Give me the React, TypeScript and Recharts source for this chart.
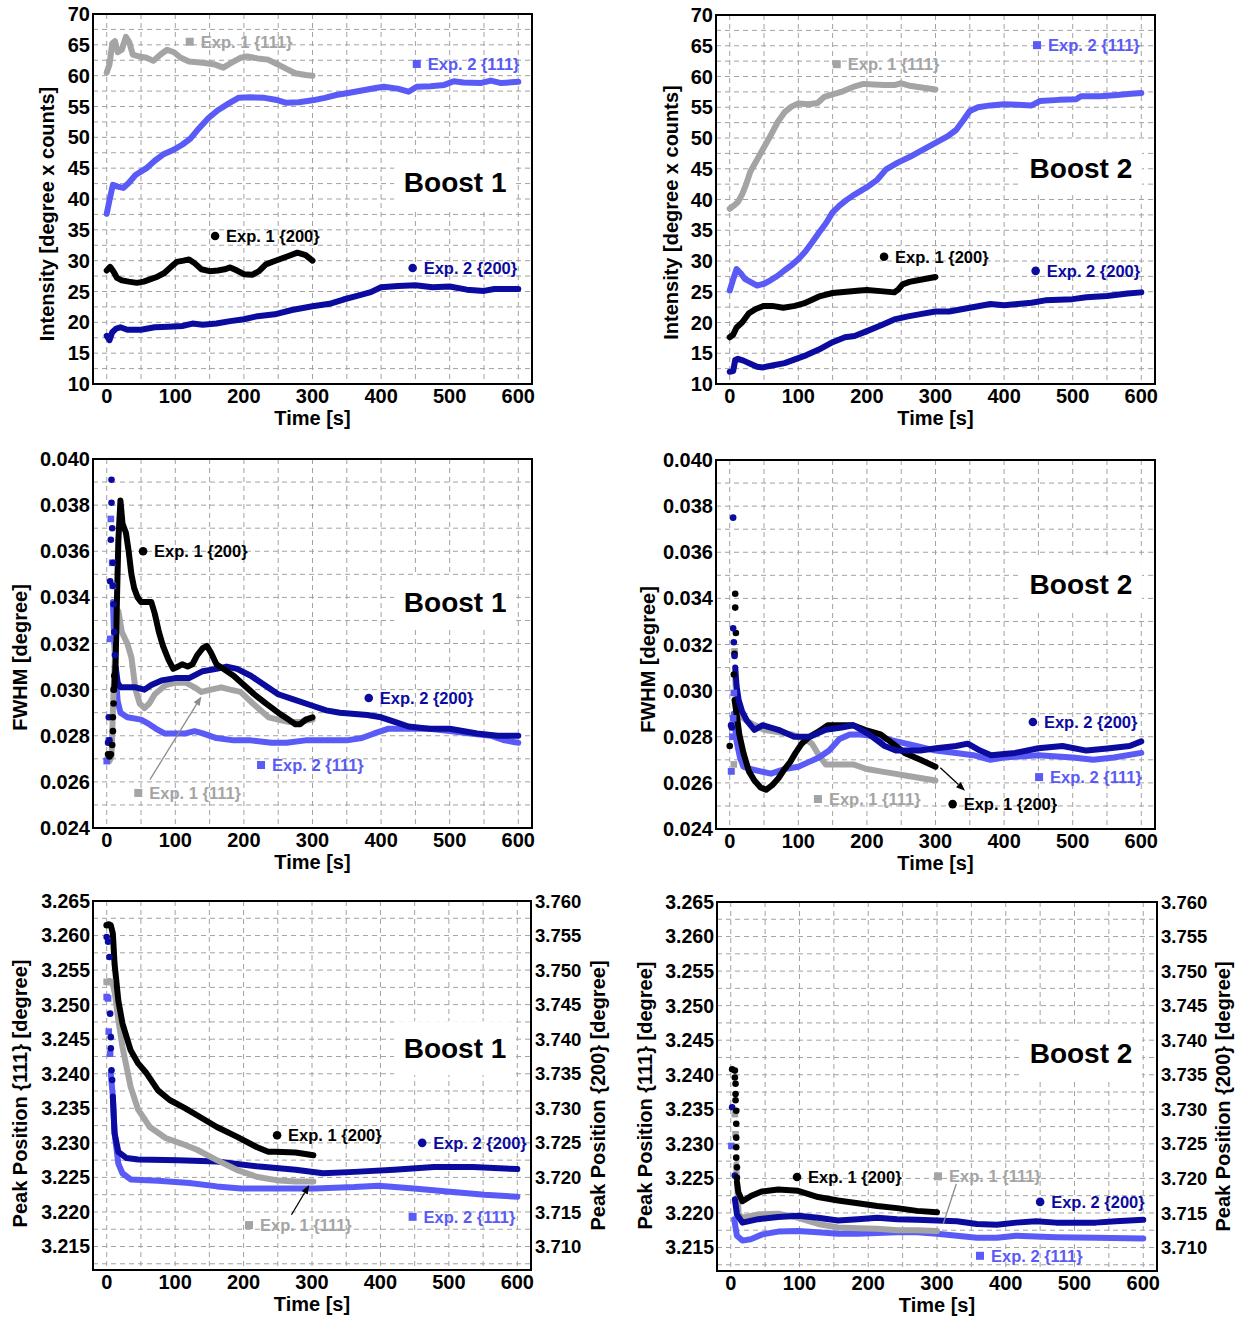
import React from 'react';
import {
  ComposedChart,
  Line,
  Scatter,
  XAxis,
  YAxis,
  CartesianGrid,
  ReferenceDot,
  ReferenceLine,
  ReferenceArea,
} from 'recharts';

type Pt = [number, number];
type Marker = 'circle' | 'square';

// ---------- colours & fonts ----------
const GRAY = '#a4a4a4';
const BLUE = '#5a5af7';
const NAVY = '#0b0b9f';
const BLACK = '#000000';
const GRID = '#a2a2a2';
const FONT = '"Liberation Sans", Arial, Helvetica, sans-serif';

// ---------- axis ticks ----------
const timeTicks = [0, 100, 200, 300, 400, 500, 600];
const intensityTicks = [10, 15, 20, 25, 30, 35, 40, 45, 50, 55, 60, 65, 70];
const fwhmTicks = [0.024, 0.026, 0.028, 0.03, 0.032, 0.034, 0.036, 0.038, 0.04];
const pos111Ticks = [3.215, 3.22, 3.225, 3.23, 3.235, 3.24, 3.245, 3.25, 3.255, 3.26, 3.265];
const pos200Ticks = [3.71, 3.715, 3.72, 3.725, 3.73, 3.735, 3.74, 3.745, 3.75, 3.755, 3.76];

const steps = (from: number, to: number, step: number) => {
  const out: number[] = [];
  for (let v = from; v <= to + step / 1000; v += step) out.push(+v.toFixed(6));
  return out;
};
const timeGrid = steps(0, 600, 50);

// ---------- series labels ----------
const L_E1_111 = 'Exp. 1 {111}';
const L_E2_111 = 'Exp. 2 {111}';
const L_E1_200 = 'Exp. 1 {200}';
const L_E2_200 = 'Exp. 2 {200}';

// ================= Intensity, Boost 1 =================
const int1E1_111: Pt[] = [[0,60.5],[4,61.8],[8,65.2],[12,65.6],[16,63.8],[22,64.2],[28,66.3],[33,65.4],[38,63.4],[48,63.1],[58,62.9],[68,62.4],[78,63.4],[88,64.2],[98,63.8],[108,62.9],[120,62.3],[140,62.1],[158,61.8],[170,61.3],[182,62.1],[195,62.9],[205,63.1],[220,62.8],[235,62.6],[248,61.9],[262,61.1],[275,60.4],[290,60.1],[300,60.0]];
const int1E2_111: Pt[] = [[0,37.6],[4,39.8],[9,42.3],[16,42.0],[24,41.8],[32,42.6],[42,43.9],[58,45.0],[70,46.2],[82,47.2],[96,47.9],[110,48.8],[122,49.8],[134,51.4],[148,53.1],[162,54.4],[178,55.5],[192,56.4],[210,56.5],[230,56.4],[246,56.1],[262,55.6],[280,55.7],[300,56.0],[318,56.4],[336,56.9],[352,57.2],[372,57.6],[392,58.0],[404,58.2],[424,57.9],[440,57.4],[452,58.2],[472,58.3],[492,58.5],[506,59.1],[520,58.9],[545,58.8],[560,59.2],[575,58.8],[600,59.0]];
const int1E1_200: Pt[] = [[0,28.4],[5,29.0],[10,28.2],[15,27.2],[22,26.8],[32,26.6],[44,26.4],[54,26.6],[64,27.0],[74,27.4],[84,28.0],[94,29.0],[102,29.8],[112,30.0],[120,30.2],[128,29.6],[138,28.6],[150,28.3],[162,28.4],[172,28.6],[180,28.9],[190,28.4],[200,27.8],[212,27.7],[222,28.3],[232,29.4],[244,29.9],[256,30.4],[266,30.8],[278,31.3],[290,30.9],[300,30.0]];
const int1E2_200: Pt[] = [[0,17.8],[4,17.1],[8,18.4],[14,19.0],[20,19.2],[30,18.8],[50,18.8],[70,19.2],[90,19.3],[110,19.4],[125,19.8],[140,19.6],[160,19.8],[180,20.2],[200,20.5],[220,21.0],[245,21.3],[270,22.0],[300,22.6],[325,23.0],[345,23.7],[365,24.3],[385,24.9],[400,25.7],[425,25.9],[450,26.0],[475,25.7],[500,25.8],[525,25.3],[550,25.1],[565,25.4],[600,25.4]];

// ================= Intensity, Boost 2 =================
const int2E1_111: Pt[] = [[0,38.5],[6,39.0],[12,39.6],[18,40.8],[24,42.5],[30,44.5],[40,46.5],[50,48.5],[60,50.5],[70,52.6],[80,54.2],[90,55.1],[100,55.6],[115,55.5],[128,55.7],[138,56.7],[150,57.1],[165,57.6],[180,58.3],[195,58.8],[210,58.7],[225,58.6],[240,58.6],[250,58.9],[262,58.5],[280,58.2],[300,57.9]];
const int2E2_111: Pt[] = [[0,25.2],[5,27.0],[10,28.7],[16,28.0],[22,27.1],[30,26.6],[40,26.0],[50,26.3],[60,26.9],[70,27.6],[80,28.5],[90,29.3],[100,30.3],[110,31.5],[120,33.0],[130,34.6],[140,36.1],[150,37.9],[160,39.0],[170,39.9],[182,40.8],[200,42.0],[215,43.2],[228,44.9],[245,46.0],[262,46.9],[280,48.0],[300,49.2],[318,50.3],[330,51.3],[340,52.8],[350,54.4],[362,55.0],[380,55.3],[400,55.5],[420,55.4],[440,55.3],[452,56.0],[480,56.2],[505,56.3],[512,56.8],[540,56.8],[565,57.0],[585,57.2],[600,57.3]];
const int2E1_200: Pt[] = [[0,17.6],[5,18.0],[10,19.2],[18,20.0],[28,21.5],[38,22.2],[50,22.7],[62,22.7],[78,22.4],[95,22.7],[108,23.1],[120,23.7],[132,24.3],[150,24.8],[170,25.0],[190,25.2],[200,25.3],[220,25.1],[240,24.9],[246,25.4],[252,26.2],[262,26.6],[280,27.0],[300,27.4]];
const int2E2_200: Pt[] = [[0,12.0],[5,12.1],[8,13.9],[12,14.1],[20,13.8],[30,13.3],[40,12.8],[48,12.7],[62,13.0],[80,13.4],[100,14.2],[112,14.7],[130,15.6],[150,16.8],[168,17.6],[182,17.8],[200,18.6],[220,19.5],[240,20.5],[260,21.0],[280,21.4],[300,21.8],[320,21.8],[340,22.2],[360,22.6],[380,23.0],[400,22.8],[420,23.0],[440,23.2],[460,23.6],[500,23.8],[520,24.1],[550,24.3],[580,24.7],[600,24.9]];

// ================= FWHM, Boost 1 =================
const fw1E1_111: Pt[] = [[0,0.0270],[4,0.0269],[7,0.0271],[10,0.0300],[14,0.0328],[17,0.0334],[22,0.0325],[30,0.0320],[36,0.0314],[42,0.0300],[48,0.0294],[55,0.0292],[62,0.0294],[70,0.0298],[86,0.0302],[100,0.0303],[115,0.0303],[128,0.0301],[138,0.0299],[152,0.0300],[167,0.0301],[180,0.0300],[195,0.0299],[213,0.0294],[236,0.0288],[250,0.0287],[265,0.0286],[282,0.0286],[300,0.0287]];
const fw1E2_111Head: Pt[] = [[0,0.0269],[3,0.0278],[5,0.0322],[6,0.0374],[8,0.0355],[9,0.0345]];
const fw1E2_111: Pt[] = [[9,0.0338],[11,0.0322],[13,0.0306],[16,0.0295],[20,0.0290],[30,0.0288],[50,0.0287],[62,0.0285],[72,0.0283],[84,0.0281],[100,0.0281],[115,0.0281],[128,0.0282],[140,0.0281],[160,0.0279],[185,0.0278],[210,0.0278],[240,0.0277],[262,0.0277],[290,0.0278],[320,0.0278],[350,0.0278],[372,0.0279],[390,0.0281],[410,0.0283],[440,0.0283],[470,0.0283],[500,0.0282],[530,0.0281],[560,0.0280],[580,0.0278],[600,0.0277]];
const fw1E1_200Head: Pt[] = [[2,0.0272],[4,0.0271],[6,0.0272],[8,0.0276],[9,0.0282],[9,0.0288],[10,0.0294],[10,0.0300],[11,0.0306]];
const fw1E1_200: Pt[] = [[11,0.0300],[13,0.0312],[15,0.0340],[17,0.0365],[20,0.0382],[23,0.0372],[28,0.0368],[32,0.0360],[36,0.0350],[40,0.0344],[45,0.0340],[50,0.0338],[58,0.0338],[65,0.0338],[70,0.0333],[76,0.0325],[82,0.0319],[90,0.0313],[97,0.0309],[104,0.0310],[110,0.0311],[118,0.0310],[125,0.0311],[132,0.0315],[140,0.0318],[146,0.0319],[152,0.0316],[160,0.0311],[170,0.0309],[185,0.0306],[200,0.0302],[215,0.0298],[232,0.0294],[250,0.0290],[265,0.0287],[275,0.0285],[282,0.0285],[290,0.0287],[300,0.0288]];
const fw1E2_200Head: Pt[] = [[2,0.0277],[3,0.0288],[4,0.0278],[5,0.0347],[6,0.0365],[7,0.0381],[7,0.0391],[8,0.0370],[9,0.0355],[9,0.0345],[10,0.0337],[11,0.0325],[12,0.0315]];
const fw1E2_200: Pt[] = [[13,0.0310],[16,0.0303],[20,0.0301],[30,0.0301],[42,0.0301],[55,0.0300],[65,0.0302],[80,0.0304],[100,0.0305],[120,0.0305],[140,0.0308],[160,0.0309],[175,0.0310],[190,0.0309],[210,0.0306],[230,0.0302],[250,0.0298],[270,0.0296],[300,0.0293],[320,0.0291],[340,0.0290],[380,0.0289],[400,0.0288],[420,0.0286],[440,0.0284],[470,0.0283],[500,0.0283],[540,0.0281],[570,0.0280],[600,0.0280]];

// ================= FWHM, Boost 2 =================
const fw2E1_111Head: Pt[] = [[3,0.0265],[6,0.0268],[7,0.0317]];
const fw2E1_111: Pt[] = [[8,0.0305],[10,0.0295],[15,0.0289],[30,0.0286],[50,0.0283],[70,0.0282],[90,0.0281],[110,0.0279],[120,0.0277],[130,0.0272],[140,0.0268],[160,0.0268],[180,0.0268],[190,0.0267],[200,0.0266],[220,0.0265],[240,0.0264],[260,0.0263],[280,0.0262],[300,0.0261]];
const fw2E2_111Head: Pt[] = [[2,0.0265],[4,0.0280],[5,0.0288],[6,0.0299]];
const fw2E2_111: Pt[] = [[6,0.0290],[10,0.0278],[15,0.0271],[20,0.0267],[30,0.0266],[45,0.0265],[60,0.0264],[80,0.0266],[100,0.0267],[115,0.0269],[130,0.0271],[145,0.0274],[160,0.0279],[175,0.0281],[192,0.0281],[215,0.0280],[243,0.0278],[272,0.0276],[300,0.0274],[330,0.0273],[355,0.0272],[380,0.0270],[400,0.0271],[450,0.0272],[500,0.0271],[530,0.0270],[560,0.0271],[600,0.0273]];
const fw2E1_200Head: Pt[] = [[0,0.0276],[6,0.0307],[7,0.0316],[8,0.0342],[8,0.0336],[9,0.0325]];
const fw2E1_200: Pt[] = [[7,0.0296],[10,0.0290],[14,0.0281],[20,0.0273],[28,0.0265],[36,0.0261],[45,0.0258],[53,0.0257],[62,0.0259],[71,0.0262],[80,0.0266],[88,0.0269],[96,0.0273],[105,0.0277],[116,0.0280],[128,0.0282],[143,0.0285],[163,0.0285],[180,0.0285],[197,0.0283],[220,0.0281],[238,0.0277],[255,0.0273],[278,0.0270],[300,0.0267]];
const fw2E2_200Head: Pt[] = [[2,0.0285],[3,0.0284],[5,0.0375],[5,0.0327],[6,0.0321],[7,0.0315]];
const fw2E2_200: Pt[] = [[8,0.0310],[10,0.0302],[13,0.0296],[18,0.0291],[25,0.0287],[36,0.0283],[48,0.0285],[60,0.0284],[71,0.0283],[94,0.0280],[117,0.0280],[140,0.0283],[163,0.0284],[180,0.0285],[203,0.0281],[226,0.0276],[243,0.0274],[278,0.0274],[301,0.0275],[330,0.0276],[347,0.0277],[365,0.0274],[381,0.0272],[416,0.0273],[450,0.0275],[485,0.0276],[520,0.0274],[554,0.0275],[583,0.0276],[600,0.0278]];

// ================= Peak position, Boost 1 ({200} on the right axis) =================
const pk1E1_111Head: Pt[] = [[0,3.2533],[5,3.2533]];
const pk1E1_111: Pt[] = [[9,3.2530],[12,3.2516],[17,3.2478],[23,3.2439],[35,3.2381],[46,3.2348],[63,3.2323],[86,3.2307],[109,3.2299],[132,3.2290],[161,3.2275],[190,3.2261],[219,3.2251],[247,3.2246],[276,3.2244],[302,3.2244]];
const pk1E2_111Head: Pt[] = [[0,3.2511],[2,3.2509],[3,3.2461],[5,3.2429]];
const pk1E2_111: Pt[] = [[6,3.2400],[9,3.2367],[11.5,3.2314],[17,3.2270],[23,3.2256],[35,3.2247],[75,3.2245],[121,3.2242],[161,3.2237],[196,3.2234],[247,3.2234],[305,3.2234],[362,3.2236],[397,3.2238],[449,3.2234],[506,3.2229],[552,3.2225],[600,3.2222]];
const pk1E1_200Head: Pt[] = [[0,3.7565],[3,3.7566]];
const pk1E1_200: Pt[] = [[6,3.7565],[9,3.7553],[11.5,3.7509],[17,3.7456],[23,3.7423],[35,3.7384],[46,3.7365],[58,3.7351],[75,3.7326],[92,3.7312],[115,3.7300],[132,3.7290],[161,3.7273],[190,3.7259],[219,3.7244],[236,3.7237],[247,3.7237],[276,3.7236],[302,3.7232]];
const pk1E2_200Head: Pt[] = [[0,3.7548],[2,3.7541],[4,3.7519],[4,3.7483],[5,3.7437],[6,3.7403],[6,3.7387],[7,3.7355],[8,3.7341]];
const pk1E2_200: Pt[] = [[9,3.7317],[11.5,3.7264],[17,3.7237],[29,3.7228],[46,3.7226],[104,3.7225],[161,3.7223],[219,3.7216],[276,3.7211],[316,3.7206],[362,3.7208],[420,3.7211],[478,3.7215],[535,3.7215],[600,3.7212]];

// ================= Peak position, Boost 2 ({200} on the right axis) =================
const pk2E1_111Head: Pt[] = [[6,3.2343],[7,3.2314]];
const pk2E1_111: Pt[] = [[8,3.2270],[9,3.2247],[11.5,3.2198],[17,3.2193],[40,3.2198],[69,3.2199],[98,3.2193],[127,3.2184],[156,3.2179],[185,3.2178],[213,3.2177],[242,3.2175],[271,3.2175],[300,3.2174]];
const pk2E2_111Head: Pt[] = [[1,3.2297]];
const pk2E2_111: Pt[] = [[5,3.2191],[9,3.2167],[17,3.2160],[29,3.2162],[46,3.2169],[69,3.2173],[98,3.2174],[127,3.2172],[156,3.2170],[185,3.2170],[213,3.2171],[242,3.2172],[271,3.2172],[300,3.2170],[329,3.2167],[358,3.2164],[387,3.2164],[415,3.2167],[473,3.2165],[531,3.2164],[600,3.2163]];
const pk2E1_200Head: Pt[] = [[2,3.7358],[6,3.7356],[6,3.7346],[7,3.7337],[7,3.7322],[7,3.7313],[8,3.7298],[8,3.7279],[8,3.7259],[8,3.7245],[8,3.7230],[9,3.7216],[9,3.7201]];
const pk2E1_200: Pt[] = [[9,3.7195],[11,3.7180],[17,3.7167],[30,3.7175],[45,3.7181],[69,3.7184],[98,3.7182],[127,3.7173],[156,3.7168],[185,3.7164],[213,3.7160],[242,3.7157],[271,3.7153],[300,3.7151]];
const pk2E2_200Head: Pt[] = [[2,3.7303],[6,3.7204]];
const pk2E2_200: Pt[] = [[6,3.7170],[9,3.7148],[17,3.7136],[40,3.7141],[69,3.7144],[98,3.7146],[127,3.7143],[156,3.7139],[185,3.7141],[213,3.7143],[242,3.7141],[271,3.7140],[300,3.7139],[329,3.7138],[358,3.7134],[387,3.7133],[415,3.7136],[444,3.7138],[473,3.7136],[502,3.7136],[531,3.7136],[560,3.7138],[600,3.7140]];

// ---------- panel configuration ----------
type SeriesCfg = { color: string; marker: Marker; axis: 'left' | 'right'; head?: Pt[]; line: Pt[] };
type TagCfg = { text: string; color: string; marker: Marker; at: Pt };
type AxisCfg = {
  domain: [number, number];
  ticks: number[];
  grid?: number[];
  digits: number;
  title: string;
  titleDx: number;
  titleDy: number;
  tickSize: number;
  tickGap: number;
};
type PanelCfg = {
  box: [number, number, number, number];
  leftW: number;
  rightW: number;
  left: AxisCfg;
  right?: AxisCfg;
  series: SeriesCfg[];
  tags: TagCfg[];
  boost: { text: string; at: Pt };
  arrow?: { from: Pt; to: Pt; color: string; head: boolean };
};

const intensityAxis = (dx: number, dy: number): AxisCfg => ({
  domain: [10, 70], ticks: intensityTicks, grid: steps(12.5, 67.5, 2.5), digits: 0,
  title: 'Intensity [degree x counts]', titleDx: dx, titleDy: dy, tickSize: 20, tickGap: 3,
});
const fwhmAxis = (dx: number, dy: number): AxisCfg => ({
  domain: [0.024, 0.04], ticks: fwhmTicks, grid: steps(0.025, 0.039, 0.001), digits: 3,
  title: 'FWHM [degree]', titleDx: dx, titleDy: dy, tickSize: 20, tickGap: 3,
});
const pos111Axis = (dx: number, dy: number): AxisCfg => ({
  domain: [3.2116, 3.265], ticks: pos111Ticks, grid: steps(3.2125, 3.2625, 0.0025), digits: 3,
  title: 'Peak Position {111} [degree]', titleDx: dx, titleDy: dy, tickSize: 19.5, tickGap: 3,
});
const pos200Axis = (dx: number, dy: number): AxisCfg => ({
  domain: [3.7066, 3.76], ticks: pos200Ticks, digits: 3,
  title: 'Peak Position {200} [degree]', titleDx: dx, titleDy: dy, tickSize: 18.5, tickGap: 4,
});

const panels: PanelCfg[] = [
  {
    box: [93, 14, 439, 370], leftW: 93, rightW: 0, left: intensityAxis(47, 15),
    series: [
      { color: BLUE, marker: 'square', axis: 'left', line: int1E2_111 },
      { color: NAVY, marker: 'circle', axis: 'left', line: int1E2_200 },
      { color: GRAY, marker: 'square', axis: 'left', line: int1E1_111 },
      { color: BLACK, marker: 'circle', axis: 'left', line: int1E1_200 },
    ],
    tags: [
      { text: L_E1_111, color: GRAY, marker: 'square', at: [121, 65.5] },
      { text: L_E2_111, color: BLUE, marker: 'square', at: [452, 61.9] },
      { text: L_E1_200, color: BLACK, marker: 'circle', at: [158, 34.0] },
      { text: L_E2_200, color: NAVY, marker: 'circle', at: [446, 28.8] },
    ],
    boost: { text: 'Boost 1', at: [508, 42.8] },
  },
  {
    box: [716, 15, 439, 369], leftW: 96, rightW: 0, left: intensityAxis(51, 13),
    series: [
      { color: BLUE, marker: 'square', axis: 'left', line: int2E2_111 },
      { color: NAVY, marker: 'circle', axis: 'left', line: int2E2_200 },
      { color: GRAY, marker: 'square', axis: 'left', line: int2E1_111 },
      { color: BLACK, marker: 'circle', axis: 'left', line: int2E1_200 },
    ],
    tags: [
      { text: L_E1_111, color: GRAY, marker: 'square', at: [156, 62.0] },
      { text: L_E2_111, color: BLUE, marker: 'square', at: [448, 65.1] },
      { text: L_E1_200, color: BLACK, marker: 'circle', at: [225, 30.7] },
      { text: L_E2_200, color: NAVY, marker: 'circle', at: [446, 28.4] },
    ],
    boost: { text: 'Boost 2', at: [512, 45.1] },
  },
  {
    box: [93, 459, 439, 369], leftW: 93, rightW: 0, left: fwhmAxis(20, 14),
    series: [
      { color: BLUE, marker: 'square', axis: 'left', head: fw1E2_111Head, line: fw1E2_111 },
      { color: GRAY, marker: 'square', axis: 'left', line: fw1E1_111 },
      { color: NAVY, marker: 'circle', axis: 'left', head: fw1E2_200Head, line: fw1E2_200 },
      { color: BLACK, marker: 'circle', axis: 'left', head: fw1E1_200Head, line: fw1E1_200 },
    ],
    tags: [
      { text: L_E1_200, color: BLACK, marker: 'circle', at: [53, 0.036] },
      { text: L_E2_200, color: NAVY, marker: 'circle', at: [382, 0.02964] },
      { text: L_E2_111, color: BLUE, marker: 'square', at: [225, 0.02673] },
      { text: L_E1_111, color: GRAY, marker: 'square', at: [46, 0.02552] },
    ],
    boost: { text: 'Boost 1', at: [508, 0.0338] },
    arrow: { from: [63, 0.0261], to: [138, 0.0297], color: '#8c8c8c', head: true },
  },
  {
    box: [716, 460, 439, 369], leftW: 96, rightW: 0, left: fwhmAxis(28, 15),
    series: [
      { color: GRAY, marker: 'square', axis: 'left', head: fw2E1_111Head, line: fw2E1_111 },
      { color: BLUE, marker: 'square', axis: 'left', head: fw2E2_111Head, line: fw2E2_111 },
      { color: BLACK, marker: 'circle', axis: 'left', head: fw2E1_200Head, line: fw2E1_200 },
      { color: NAVY, marker: 'circle', axis: 'left', head: fw2E2_200Head, line: fw2E2_200 },
    ],
    tags: [
      { text: L_E2_200, color: NAVY, marker: 'circle', at: [442, 0.02864] },
      { text: L_E2_111, color: BLUE, marker: 'square', at: [451, 0.02625] },
      { text: L_E1_111, color: GRAY, marker: 'square', at: [128.6, 0.0253] },
      { text: L_E1_200, color: BLACK, marker: 'circle', at: [325, 0.02508] },
    ],
    boost: { text: 'Boost 2', at: [512, 0.03462] },
    arrow: { from: [307, 0.02666], to: [343, 0.02566], color: BLACK, head: true },
  },
  {
    box: [93, 901, 438, 369], leftW: 93, rightW: 80, left: pos111Axis(20, 8), right: pos200Axis(67, 10),
    series: [
      { color: BLUE, marker: 'square', axis: 'left', head: pk1E2_111Head, line: pk1E2_111 },
      { color: NAVY, marker: 'circle', axis: 'right', head: pk1E2_200Head, line: pk1E2_200 },
      { color: GRAY, marker: 'square', axis: 'left', head: pk1E1_111Head, line: pk1E1_111 },
      { color: BLACK, marker: 'circle', axis: 'right', head: pk1E1_200Head, line: pk1E1_200 },
    ],
    tags: [
      { text: L_E1_200, color: BLACK, marker: 'circle', at: [249, 3.2311] },
      { text: L_E2_200, color: NAVY, marker: 'circle', at: [461, 3.23] },
      { text: L_E1_111, color: GRAY, marker: 'square', at: [208, 3.2181] },
      { text: L_E2_111, color: BLUE, marker: 'square', at: [447, 3.2193] },
    ],
    boost: { text: 'Boost 1', at: [509, 3.2437] },
    arrow: { from: [270, 3.2196], to: [296, 3.2239], color: BLACK, head: true },
  },
  {
    box: [717, 902, 440, 369], leftW: 97, rightW: 78, left: pos111Axis(25, 9), right: pos200Axis(66, 10),
    series: [
      { color: BLUE, marker: 'square', axis: 'left', head: pk2E2_111Head, line: pk2E2_111 },
      { color: GRAY, marker: 'square', axis: 'left', head: pk2E1_111Head, line: pk2E1_111 },
      { color: NAVY, marker: 'circle', axis: 'right', head: pk2E2_200Head, line: pk2E2_200 },
      { color: BLACK, marker: 'circle', axis: 'right', head: pk2E1_200Head, line: pk2E1_200 },
    ],
    tags: [
      { text: L_E1_200, color: BLACK, marker: 'circle', at: [96.4, 3.2252] },
      { text: L_E1_111, color: GRAY, marker: 'square', at: [301.5, 3.2253] },
      { text: L_E2_200, color: NAVY, marker: 'circle', at: [450, 3.2216] },
      { text: L_E2_111, color: BLUE, marker: 'square', at: [362.5, 3.2138] },
    ],
    boost: { text: 'Boost 2', at: [509.5, 3.2431] },
    arrow: { from: [328, 3.2242], to: [309, 3.2184], color: '#8c8c8c', head: false },
  },
];

// ---------- drawing helpers ----------
const toRows = (pts: Pt[]) => pts.map(([t, v]) => ({ t, v }));

const pointShape = (color: string, marker: Marker) => (props: any) =>
  marker === 'circle' ? (
    <circle cx={props.cx} cy={props.cy} r={3.3} fill={color} />
  ) : (
    <rect x={props.cx - 3.3} y={props.cy - 3.3} width={6.6} height={6.6} fill={color} />
  );

const tagShape = (tag: TagCfg) => (props: any) => {
  const { cx, cy } = props;
  return (
    <g>
      {tag.marker === 'circle' ? (
        <circle cx={cx} cy={cy} r={4.3} fill={tag.color} />
      ) : (
        <rect x={cx - 4} y={cy - 4} width={8} height={8} fill={tag.color} />
      )}
      <text x={cx + 11} y={cy} dy="0.36em" fontSize={16.5} fontWeight={700} fill={tag.color} fontFamily={FONT}>
        {tag.text}
      </text>
    </g>
  );
};

const boostShape = (text: string) => (props: any) => (
  <g>
    <rect x={props.cx - 61} y={props.cy - 27} width={122} height={54} fill="#ffffff" />
    <text x={props.cx} y={props.cy} dy="0.36em" textAnchor="middle" fontSize={28} fontWeight={700} fill="#000" fontFamily={FONT}>
      {text}
    </text>
  </g>
);

const arrowShape = (color: string, head: boolean) => (props: any) => {
  const { x1, y1, x2, y2 } = props;
  const a = Math.atan2(y2 - y1, x2 - x1);
  const len = 9;
  const half = 3.5;
  const bx = x2 - len * Math.cos(a);
  const by = y2 - len * Math.sin(a);
  const px = -Math.sin(a) * half;
  const py = Math.cos(a) * half;
  return (
    <g>
      <line x1={x1} y1={y1} x2={head ? bx : x2} y2={head ? by : y2} stroke={color} strokeWidth={1.3} />
      {head && <polygon points={`${x2},${y2} ${bx + px},${by + py} ${bx - px},${by - py}`} fill={color} />}
    </g>
  );
};

const timeTitle = (props: any) => {
  const vb = props.viewBox;
  if (!vb) return null;
  return (
    <text x={vb.x + vb.width / 2} y={vb.y + 34} dy="0.36em" textAnchor="middle" fontSize={20} fontWeight={700} fill="#000" fontFamily={FONT}>
      Time [s]
    </text>
  );
};

const yTitle = (axis: AxisCfg) => (props: any) => {
  const vb = props.viewBox;
  if (!vb) return null;
  const cx = vb.x + axis.titleDx;
  const cy = vb.y + vb.height / 2 + axis.titleDy;
  return (
    <text
      x={cx}
      y={cy}
      dy="0.36em"
      transform={`rotate(-90 ${cx} ${cy})`}
      textAnchor="middle"
      fontSize={20}
      fontWeight={700}
      fill="#000"
      fontFamily={FONT}
    >
      {axis.title}
    </text>
  );
};

const tickStyle = (size: number) => ({ fontSize: size, fontWeight: 700, fill: '#000', fontFamily: FONT });
const MARGIN_TOP = 16;
const MARGIN_RIGHT = 6;
const X_AXIS_H = 50;
const T_DOMAIN: [number, number] = [-20, 620];

function Panel({ cfg }: { cfg: PanelCfg }) {
  const [px, py, pw, ph] = cfg.box;
  const width = cfg.leftW + pw + cfg.rightW + MARGIN_RIGHT;
  const height = MARGIN_TOP + ph + X_AXIS_H;
  const fmtL = (v: number) => v.toFixed(cfg.left.digits);
  const fmtR = (v: number) => v.toFixed(cfg.right ? cfg.right.digits : 0);

  return (
    <div style={{ position: 'absolute', left: px - cfg.leftW, top: py - MARGIN_TOP }}>
      <ComposedChart width={width} height={height} margin={{ top: MARGIN_TOP, right: MARGIN_RIGHT, bottom: 0, left: 0 }}>
        <XAxis
          type="number"
          dataKey="t"
          domain={T_DOMAIN}
          ticks={timeTicks}
          allowDataOverflow
          height={X_AXIS_H}
          axisLine={false}
          tickLine={false}
          tickSize={0}
          tickMargin={5}
          tick={tickStyle(20)}
          interval={0}
          label={timeTitle}
        />
        <YAxis
          yAxisId="left"
          type="number"
          domain={cfg.left.domain}
          ticks={cfg.left.ticks}
          allowDataOverflow
          width={cfg.leftW}
          axisLine={false}
          tickLine={false}
          tickSize={0}
          tickMargin={cfg.left.tickGap}
          tick={tickStyle(cfg.left.tickSize)}
          interval={0}
          tickFormatter={fmtL}
          label={yTitle(cfg.left)}
        />
        {cfg.right && (
          <YAxis
            yAxisId="right"
            orientation="right"
            type="number"
            domain={cfg.right.domain}
            ticks={cfg.right.ticks}
            allowDataOverflow
            width={cfg.rightW}
            axisLine={false}
            tickLine={false}
            tickSize={0}
            tickMargin={cfg.right.tickGap}
            tick={tickStyle(cfg.right.tickSize)}
            interval={0}
            tickFormatter={fmtR}
            label={yTitle(cfg.right)}
          />
        )}
        <CartesianGrid
          yAxisId="left"
          horizontalValues={cfg.left.grid}
          verticalValues={timeGrid}
          stroke={GRID}
          strokeDasharray="5 4"
          strokeWidth={1}
        />
        {cfg.series.map((s, i) => (
          <Line
            key={`l${i}`}
            yAxisId={s.axis}
            data={toRows(s.line)}
            dataKey="v"
            type="linear"
            stroke={s.color}
            strokeWidth={6}
            strokeLinejoin="round"
            strokeLinecap="round"
            dot={false}
            activeDot={false}
            isAnimationActive={false}
          />
        ))}
        {cfg.series.map((s, i) =>
          s.head ? (
            <Scatter
              key={`s${i}`}
              yAxisId={s.axis}
              data={toRows(s.head)}
              dataKey="v"
              fill={s.color}
              shape={pointShape(s.color, s.marker)}
              isAnimationActive={false}
            />
          ) : null,
        )}
        {cfg.tags.map((tag, i) => (
          <ReferenceDot
            key={`tag${i}`}
            yAxisId="left"
            x={tag.at[0]}
            y={tag.at[1]}
            r={4}
            ifOverflow="visible"
            shape={tagShape(tag)}
          />
        ))}
        <ReferenceDot
          yAxisId="left"
          x={cfg.boost.at[0]}
          y={cfg.boost.at[1]}
          r={4}
          ifOverflow="visible"
          shape={boostShape(cfg.boost.text)}
        />
        {cfg.arrow && (
          <ReferenceLine
            yAxisId="left"
            segment={[
              { x: cfg.arrow.from[0], y: cfg.arrow.from[1] },
              { x: cfg.arrow.to[0], y: cfg.arrow.to[1] },
            ]}
            ifOverflow="visible"
            shape={arrowShape(cfg.arrow.color, cfg.arrow.head)}
          />
        )}
        <ReferenceArea
          yAxisId="left"
          x1={T_DOMAIN[0]}
          x2={T_DOMAIN[1]}
          y1={cfg.left.domain[0]}
          y2={cfg.left.domain[1]}
          fill="none"
          fillOpacity={0}
          stroke="#000"
          strokeWidth={2}
          ifOverflow="visible"
        />
      </ComposedChart>
    </div>
  );
}

export default function App() {
  return (
    <div
      style={{
        position: 'absolute',
        left: 0,
        top: 0,
        width: 1239,
        height: 1320,
        background: '#ffffff',
        fontFamily: FONT,
        overflow: 'hidden',
      }}
    >
      {panels.map((cfg, i) => (
        <Panel key={i} cfg={cfg} />
      ))}
    </div>
  );
}
